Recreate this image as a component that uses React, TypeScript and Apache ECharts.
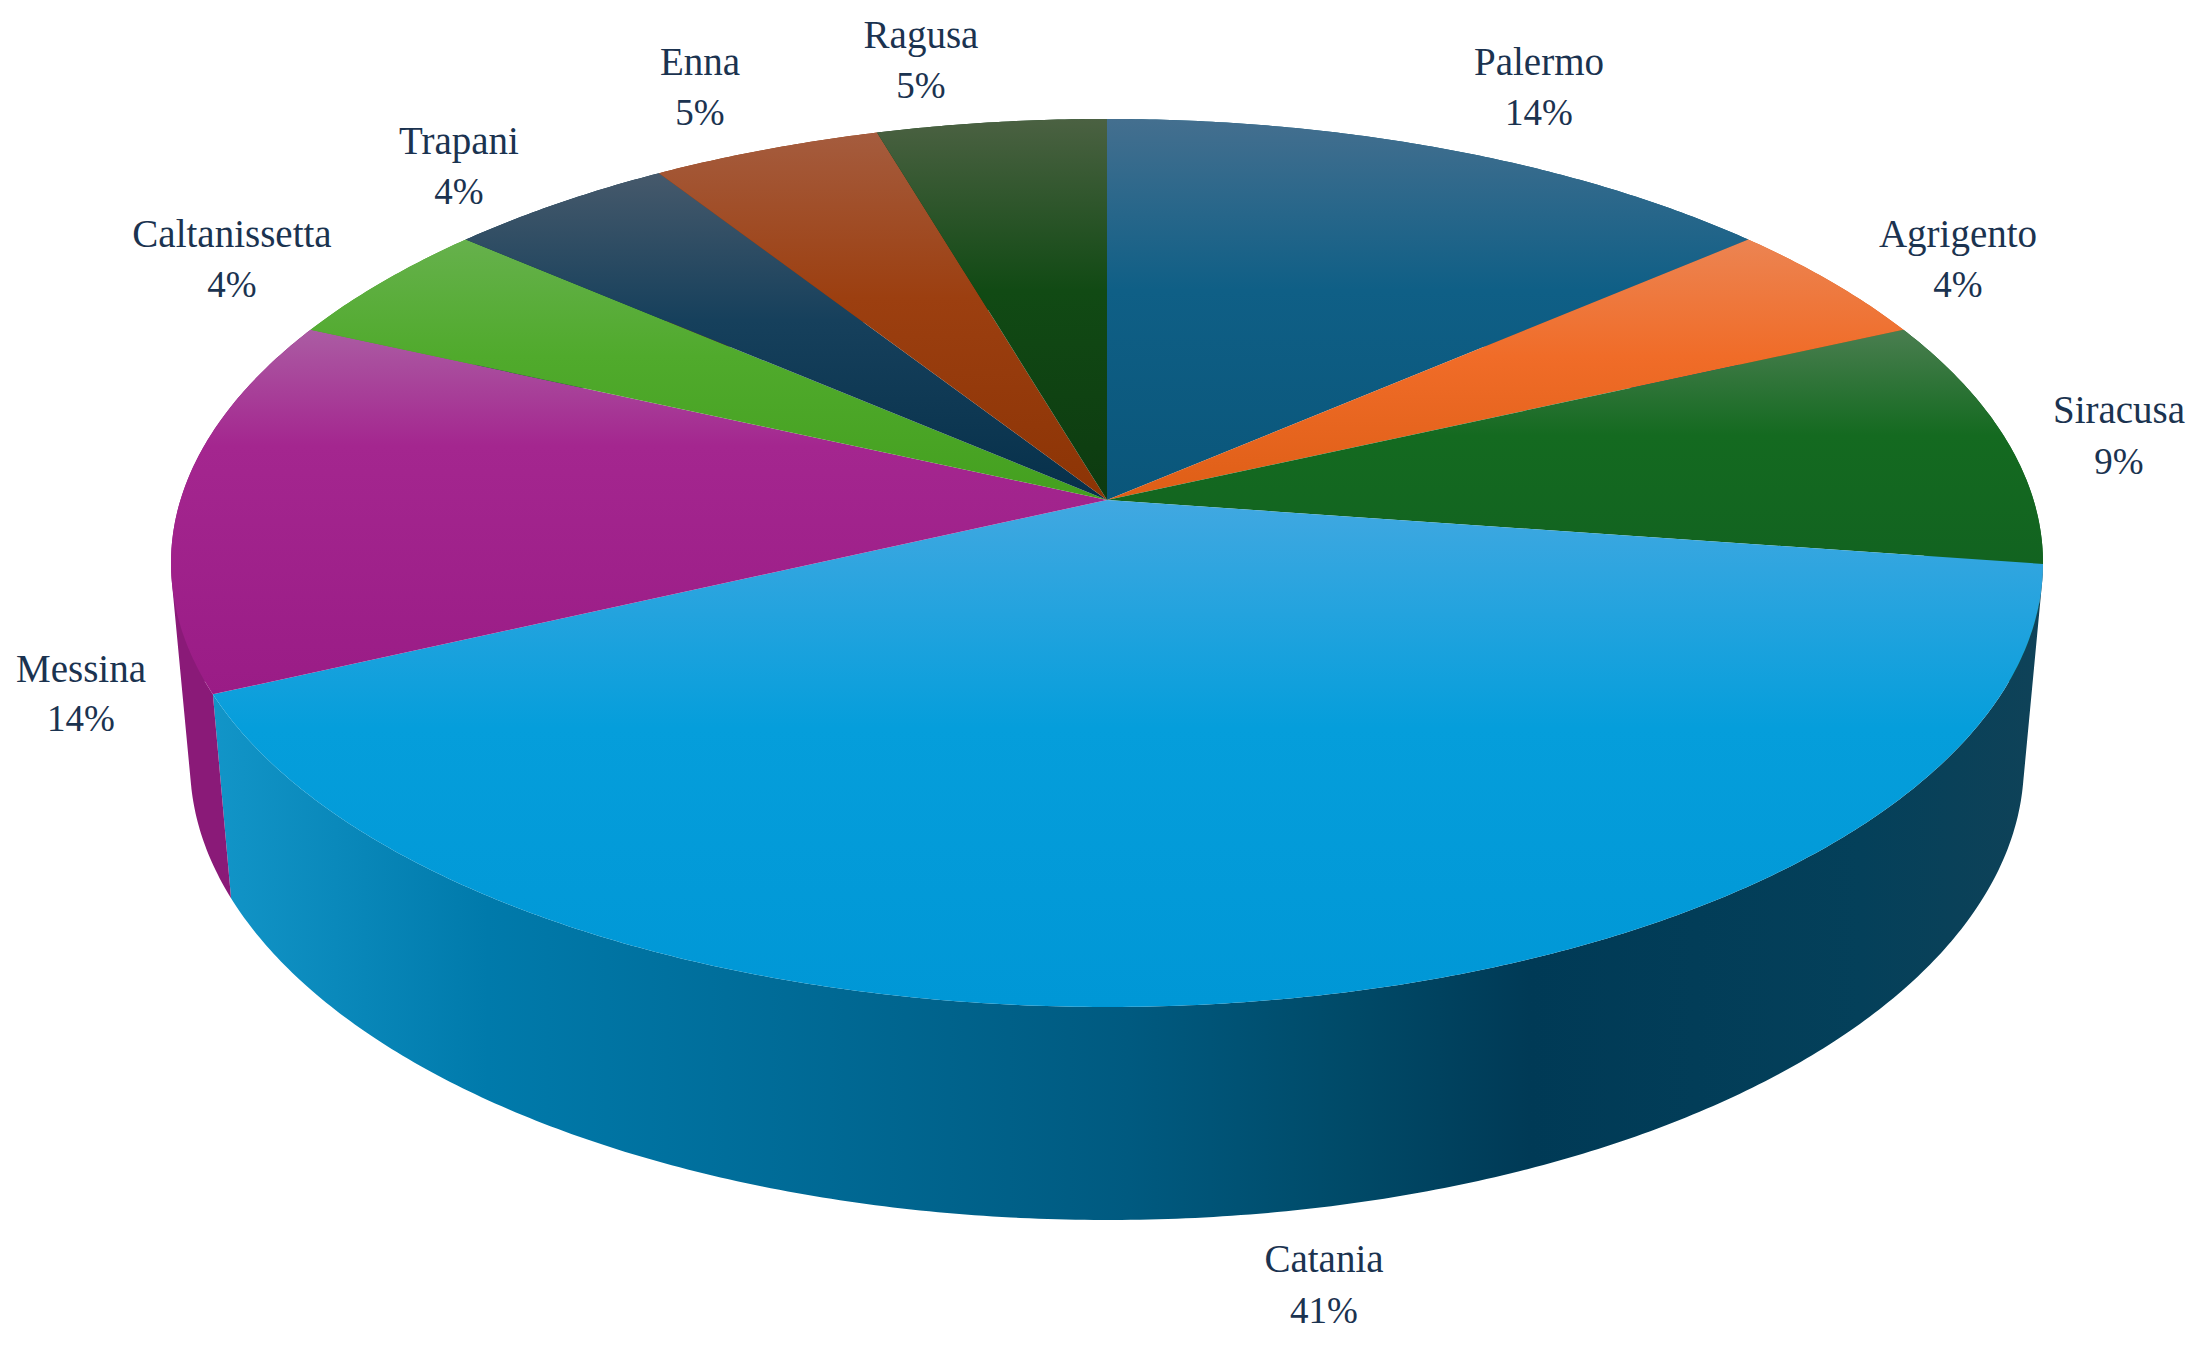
import React, { useEffect, useRef } from "react";
import * as echarts from "echarts";

const provinces = ["Palermo", "Agrigento", "Siracusa", "Catania", "Messina", "Caltanissetta", "Trapani", "Enna", "Ragusa"];
// Shares (the printed labels are kept as shown).
const shares = [13.65, 4.55, 9.1, 40.8, 13.7, 4.55, 4.55, 4.55, 4.55];
const percentLabels = [14, 4, 9, 41, 14, 4, 4, 5, 5];

// Styling: top face stops (light, middle, dark) per slice
const topStops = [
  ["#446f8f", "#0f5f86", "#0a567a"],
  ["#ec8452", "#f06c28", "#de5e16"],
  ["#4a7e50", "#146a20", "#126320"],
  ["#41a8e1", "#059edb", "#0097d6"],
  ["#ab5ca3", "#a4268f", "#9a1c86"],
  ["#66b14c", "#50aa2c", "#44a01f"],
  ["#46596b", "#16405c", "#06304a"],
  ["#a55c3e", "#9c3f10", "#8c3405"],
  ["#4b6142", "#114a14", "#0d3a10"],
];
const midStops = [0.45, 0.45, 0.45, 0.45, 0.32, 0.45, 0.45, 0.45, 0.45];
const wallStops: [number, string][][] = [
  [[0, "#0a567a"], [1, "#0a567a"]],
  [[0, "#de5e16"], [1, "#de5e16"]],
  [[0, "#126320"], [1, "#126320"]],
  [[0, "#1295c8"], [0.15, "#007aab"], [0.5, "#005a80"], [0.62, "#004a68"], [0.72, "#003a56"], [0.9, "#04405a"], [1, "#0f4258"]],
  [[0, "#8a1a78"], [1, "#85176f"]],
  [[0, "#44a01f"], [1, "#44a01f"]],
  [[0, "#06304a"], [1, "#06304a"]],
  [[0, "#8c3405"], [1, "#8c3405"]],
  [[0, "#0d3a10"], [1, "#0d3a10"]],
];
// Layout: centre of each two-line label
const labelAnchors = [
  [1539, 61, 112], [1958, 233, 284], [2119, 409, 461], [1324, 1258, 1310], [81, 668, 718],
  [232, 233, 284], [459, 140, 191], [700, 61, 112], [921, 34, 85],
];

const CX = 1107;
const TOP = { rx: 936, cy: 563, ry: 444 };
const BOTTOM = { rx: 917, cy: 763, ry: 457 };
const K = (500 - 563) / 444; // foreshortening of the disc: the apex sits above the ellipse centre
const STEP = Math.PI / 360;
const NAME_FONT = '39px "Liberation Serif", serif';
const PERCENT_FONT = '37px "Liberation Serif", serif';
const TEXT = "#1b3350";

function project(theta: number, e: { rx: number; cy: number; ry: number }) {
  const x = Math.sin(theta);
  const y = -Math.cos(theta);
  const d = 1 + K * y;
  return [CX + (e.rx * Math.sqrt(1 - K * K) * x) / d, e.cy + (e.ry * (y + K)) / d];
}

function angles(a0: number, a1: number) {
  const out: number[] = [];
  const n = Math.max(2, Math.ceil((a1 - a0) / STEP));
  for (let i = 0; i <= n; i++) out.push(a0 + ((a1 - a0) * i) / n);
  return out;
}

function topPath(a0: number, a1: number) {
  const apex = [CX, TOP.cy + TOP.ry * K];
  const pts = angles(a0, a1).map((t) => project(t, TOP));
  return `M${apex[0]} ${apex[1]}` + pts.map((p) => `L${p[0].toFixed(2)} ${p[1].toFixed(2)}`).join("") + "Z";
}

function wallPath(a0: number, a1: number) {
  const ts = angles(a0, a1);
  let d = "";
  for (let i = 0; i < ts.length - 1; i++) {
    const quad = [project(ts[i], TOP), project(ts[i + 1], TOP), project(ts[i + 1], BOTTOM), project(ts[i], BOTTOM)];
    // every quad gets the same winding, so that folded quads at the silhouette do not cancel
    let area = 0;
    for (let j = 0; j < 4; j++) {
      const p = quad[j];
      const q = quad[(j + 1) % 4];
      area += p[0] * q[1] - q[0] * p[1];
    }
    if (area < 0) quad.reverse();
    d += quad.map((p, j) => `${j ? "L" : "M"}${p[0].toFixed(2)} ${p[1].toFixed(2)}`).join("") + "Z";
  }
  return d;
}

const total = shares.reduce((s, v) => s + v, 0);
const chartData = shares.map((v, i) => ({
  name: provinces[i],
  value: [v, shares.slice(0, i).reduce((s, w) => s + w, 0)],
}));

function renderItem(params: any, api: any) {
  const i = params.dataIndex;
  const a0 = (api.value(1) / total) * Math.PI * 2;
  const a1 = ((api.value(1) + api.value(0)) / total) * Math.PI * 2;
  const stops = topStops[i];
  const [lx, ly1, ly2] = labelAnchors[i];
  return {
    type: "group",
    children: [
      {
        type: "path",
        z2: 1,
        shape: { pathData: wallPath(a0, a1) },
        style: {
          fill: new echarts.graphic.LinearGradient(213, 0, 2043, 0,
            wallStops[i].map(([offset, color]) => ({ offset, color })), true),
        },
      },
      {
        type: "path",
        z2: 2,
        shape: { pathData: topPath(a0, a1) },
        style: {
          fill: new echarts.graphic.LinearGradient(0, 0, 0, 1, [
            { offset: 0, color: stops[0] },
            { offset: midStops[i], color: stops[1] },
            { offset: 1, color: stops[2] },
          ]),
        },
      },
      { type: "text", z2: 3, style: { x: lx, y: ly1, text: provinces[i], fill: TEXT, font: NAME_FONT, align: "center", verticalAlign: "middle" } },
      { type: "text", z2: 3, style: { x: lx, y: ly2, text: `${percentLabels[i]}%`, fill: TEXT, font: PERCENT_FONT, align: "center", verticalAlign: "middle" } },
    ],
  };
}

export default function App() {
  const ref = useRef<HTMLDivElement>(null);
  useEffect(() => {
    document.body.style.margin = "0";
    const chart = echarts.init(ref.current!, undefined, { renderer: "svg" });
    chart.setOption({
      animation: false,
      backgroundColor: "#ffffff",
      series: [
        {
          type: "custom",
          coordinateSystem: "none",
          silent: true,
          renderItem,
          data: chartData,
        },
      ],
    });
    return () => chart.dispose();
  }, []);
  return <div ref={ref} style={{ width: 2202, height: 1346 }} />;
}
